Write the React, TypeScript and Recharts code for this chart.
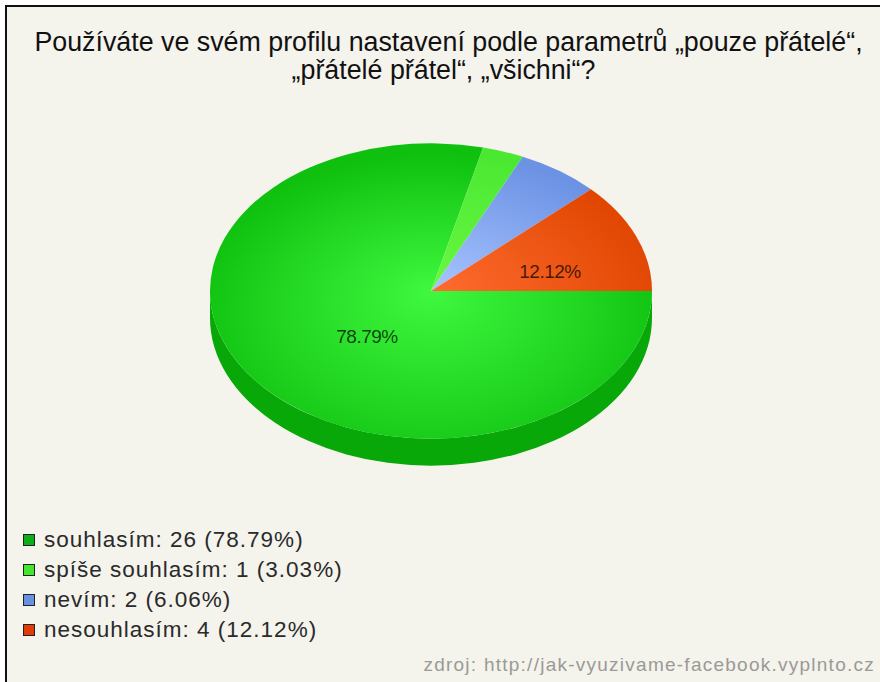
import { Legend, Pie, PieChart } from "recharts";

const categories = ["souhlasím", "spíše souhlasím", "nevím", "nesouhlasím"];
const counts = [26, 1, 2, 4];
const percents = ["78.79%", "3.03%", "6.06%", "12.12%"];
const titleLines = [
  "Používáte ve svém profilu nastavení podle parametrů „pouze přátelé“,",
  "„přátelé přátel“, „všichni“?",
];
const sourceText = "zdroj: http://jak-vyuzivame-facebook.vyplnto.cz";

const FONT = '"Liberation Sans", Arial, sans-serif';
const BG = "#f4f3ec";
const SQUASH = 0.668;
const DEPTH = 27;
const CX = 431;
const CY = 291;
const RADIUS = 221;

// gradient stops: centre, rim
const GRADIENTS = [
  ["#3ff83f", "#0fc00f"],
  ["#6af843", "#4be832"],
  ["#a8c4ff", "#6c92e4"],
  ["#ff6c30", "#e04600"],
];
const SWATCHES = ["#0ab015", "#44e62c", "#6a90e2", "#e03c0a"];
const SIDE_COLOR = "#08a808";

const tableData = categories.map((name, i) => ({
  name,
  value: counts[i],
  label: percents[i],
  fill: `url(#slice${i})`,
}));

const rad = (deg: number) => (deg * Math.PI) / 180;
const px = (cx: number, r: number, a: number) => cx + r * Math.cos(rad(a));
const py = (cy: number, r: number, a: number) => cy - r * SQUASH * Math.sin(rad(a));

// flattened sector, angles come from the Pie layout
function TopSlice(props: any) {
  const { cx, cy, outerRadius: r, startAngle, endAngle, fill } = props;
  const large = Math.abs(endAngle - startAngle) > 180 ? 1 : 0;
  const d = `M${cx},${cy}L${px(cx, r, startAngle)},${py(cy, r, startAngle)}A${r},${r * SQUASH} 0 ${large} 1 ${px(cx, r, endAngle)},${py(cy, r, endAngle)}Z`;
  return <path d={d} fill={fill} />;
}

// wall below the front half of the pie
function SideSlice(props: any) {
  const { cx, cy, outerRadius: r, startAngle, endAngle } = props;
  const a0 = Math.min(startAngle, 0);
  const a1 = Math.max(endAngle, -180);
  if (a1 >= a0) return null;
  const d = `M${px(cx, r, a0)},${py(cy, r, a0)}A${r},${r * SQUASH} 0 0 1 ${px(cx, r, a1)},${py(cy, r, a1)}L${px(cx, r, a1)},${py(cy, r, a1) + DEPTH}A${r},${r * SQUASH} 0 0 0 ${px(cx, r, a0)},${py(cy, r, a0) + DEPTH}Z`;
  return <path d={d} fill={SIDE_COLOR} />;
}

const LABEL_SPOTS: Record<number, [number, number]> = { 0: [367, 343], 3: [550, 278] };

function sliceLabel(props: any) {
  const spot = LABEL_SPOTS[props.index];
  if (!spot) return null;
  return (
    <text x={spot[0]} y={spot[1]} textAnchor="middle" fontFamily={FONT} fontSize={19} letterSpacing={-0.5} fill="#000" fillOpacity={0.72}>
      {percents[props.index]}
    </text>
  );
}

function LegendList() {
  return (
    <div style={{ fontFamily: FONT, fontSize: 22.5, color: "#2a2a2a" }}>
      {categories.map((name, i) => (
        <div key={name} style={{ display: "flex", alignItems: "center", height: 30 }}>
          <span
            style={{
              width: 10,
              height: 10,
              background: SWATCHES[i],
              border: "1px solid #222",
              marginRight: 9,
            }}
          />
          <span style={{ letterSpacing: 1 }}>{`${name}: ${counts[i]} (${percents[i]})`}</span>
        </div>
      ))}
    </div>
  );
}

export default function App() {
  return (
    <div style={{ position: "absolute", left: 0, top: 0, width: 880, height: 682, background: "#fff", overflow: "hidden" }}>
      <div
        style={{
          position: "absolute",
          left: 5,
          top: 5,
          width: 880,
          height: 690,
          background: BG,
          borderLeft: "2px solid #111",
          borderTop: "2px solid #111",
        }}
      />
      <div
        style={{
          position: "absolute",
          left: 0,
          top: 28,
          width: 897,
          textAlign: "center",
          fontFamily: FONT,
          fontSize: 26.8,
          lineHeight: "28px",
          color: "#111",
        }}
      >
        <div>{titleLines[0]}</div>
        <div style={{ position: "relative", left: -5 }}>{titleLines[1]}</div>
      </div>
      <div style={{ position: "absolute", left: 0, top: 0 }}>
        <PieChart width={880} height={682} margin={{ top: 0, right: 0, bottom: 0, left: 0 }}>
          <defs>
            {GRADIENTS.map(([inner, outer], i) => (
              <radialGradient
                key={i}
                id={`slice${i}`}
                gradientUnits="userSpaceOnUse"
                cx={0}
                cy={40}
                fx={0}
                fy={0}
                r={RADIUS + 25}
                gradientTransform={`translate(${CX} ${CY}) scale(1 ${SQUASH})`}
              >
                <stop offset="0%" stopColor={inner} />
                <stop offset="100%" stopColor={outer} />
              </radialGradient>
            ))}
          </defs>
          <Pie
            data={tableData}
            dataKey="value"
            nameKey="name"
            cx={CX}
            cy={CY}
            outerRadius={RADIUS}
            startAngle={0}
            endAngle={-360}
            stroke="none"
            legendType="none"
            shape={SideSlice}
            isAnimationActive={false}
          />
          <Pie
            data={tableData}
            dataKey="value"
            nameKey="name"
            cx={CX}
            cy={CY}
            outerRadius={RADIUS}
            startAngle={0}
            endAngle={-360}
            stroke="none"
            shape={TopSlice}
            label={sliceLabel}
            labelLine={false}
            isAnimationActive={false}
          />
          <Legend
            layout="vertical"
            align="center"
            verticalAlign="middle"
            content={<LegendList />}
            wrapperStyle={{ left: 23, top: 525, width: 400 }}
          />
        </PieChart>
      </div>
      <div
        style={{
          position: "absolute",
          right: 5,
          top: 654,
          fontFamily: FONT,
          fontSize: 19,
          letterSpacing: 1.25,
          color: "#9a9a96",
        }}
      >
        {sourceText}
      </div>
    </div>
  );
}
